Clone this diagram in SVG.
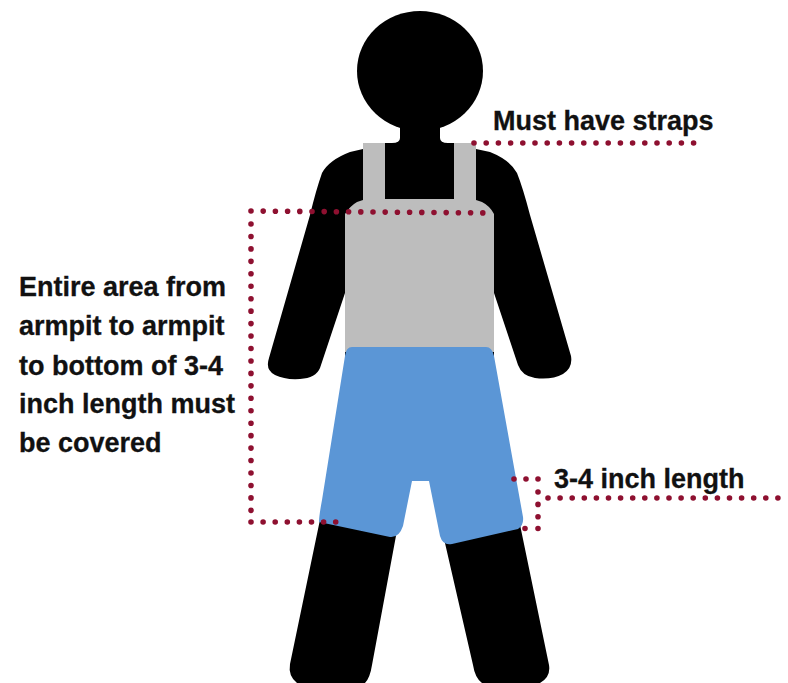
<svg xmlns="http://www.w3.org/2000/svg" width="788" height="683" viewBox="0 0 788 683">
<style>
.k{fill:#000}
.g{fill:#bdbdbd}
.b{fill:#5b96d6}
.d{fill:none;stroke:#8e1030;stroke-width:5.600;stroke-linecap:round;stroke-dasharray:0 12.2}
text{font-family:"Liberation Sans",Arial,sans-serif;font-weight:700;font-size:27px;fill:#111;stroke:#111;stroke-width:.3}
</style>
<rect width="788" height="683" fill="#fff"/>
<g id="figure">
<ellipse class="k" cx="420" cy="71" rx="63" ry="60"/>
<path class="k" d="M400 122H440V138Q440 143 448 143H454V149H476L490 152Q510 160 517 173Q523 188 530 215L571 356Q573 368 563 374Q552 380 535 378Q522 376 518 365L494 293V360H345V293L320 368Q316 378 300 379Q285 380 275 375Q265 370 269 358L310 215Q316 190 322 173Q329 160 350 152L363 149H385V143H392Q400 143 400 138Z"/>
<path class="k" d="M322 510L290 664Q288 676 297 683H365Q370 678 372 665L398 525Z"/>
<path class="k" d="M442 530L473 665Q475 678 482 683H540Q551 677 549 665L518 515Z"/>
</g>
<g id="apron">
<path class="g" d="M363 143H385V199H454V143H476V200L482 202Q490 206 494 214V352H345V214Q350 206 357 202L363 200Z"/>
</g>
<g id="shorts">
<path class="b" d="M352 347H486Q492 347 494 356L523 517Q524 525 518 529L452 544Q443 546 440 536L429 481H412L403 526Q399 538 390 537L319 522Q319 516 322 500L345 356Q346 347 352 347Z"/>
</g>
<g id="connectors">
<path class="d" d="M251 211L493 213"/>
<path class="d" d="M251 224V516" style="stroke-dasharray:0 12.45"/>
<path class="d" d="M251 522H338" style="stroke-dasharray:0 12.1"/>
<path class="d" d="M474 143H696"/>
<path class="d" d="M514 479H540" style="stroke-dasharray:0 12"/>
<path class="d" d="M538 492V520" style="stroke-dasharray:0 12.4"/>
<path class="d" d="M525 528.500H540" style="stroke-dasharray:0 13"/>
<path class="d" d="M548 498H779" style="stroke-dasharray:0 12.1"/>
</g>
<g id="labels">
<text x="493" y="130">Must have straps</text>
<text x="554" y="488">3-4 inch length</text>
<text x="19" y="296">Entire area from</text>
<text x="19" y="335">armpit to armpit</text>
<text x="19" y="375">to bottom of 3-4</text>
<text x="19" y="413">inch length must</text>
<text x="19" y="452">be covered</text>
</g>
</svg>
